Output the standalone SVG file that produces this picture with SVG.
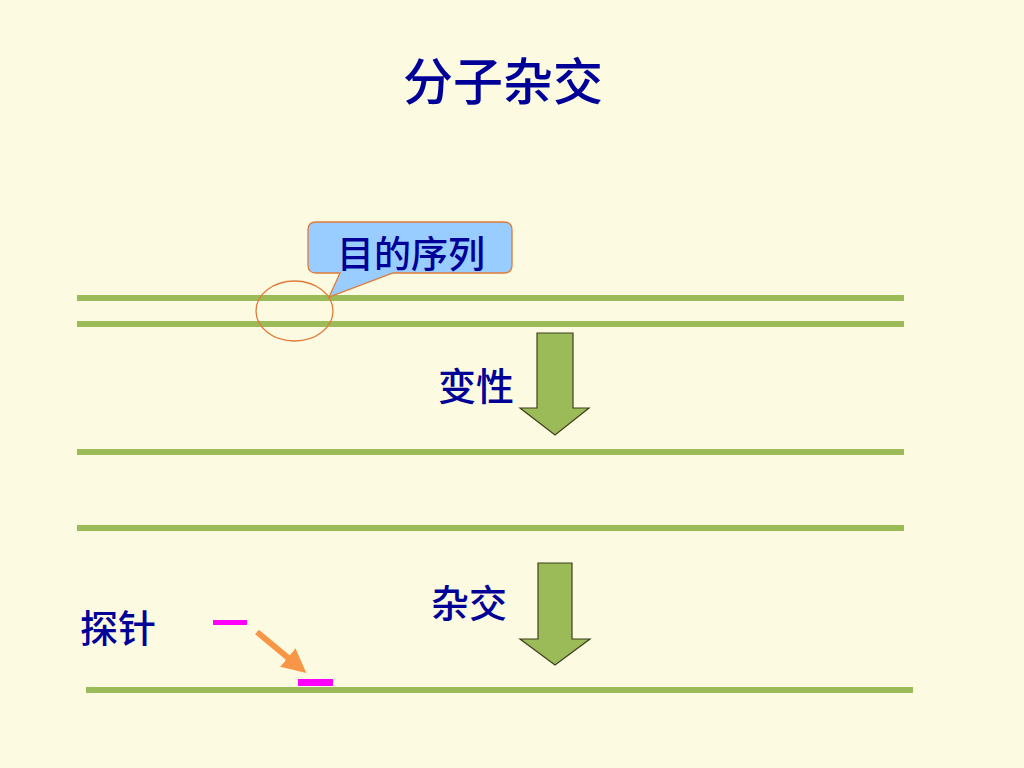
<svg xmlns="http://www.w3.org/2000/svg" width="1024" height="768" viewBox="0 0 1024 768">
<defs>
<style>
.t{font-family:"Noto Sans CJK SC","Noto Sans CJK JP",sans-serif;fill:#000099;font-weight:500;}
.strand{stroke:#9BBB59;stroke-width:6;fill:none;}
.bigarrow{fill:#9BBB59;stroke:#3F3F1F;stroke-width:1.2;}
.probe{fill:#FF00FF;}
</style>
<marker id="oarrow" markerWidth="4" markerHeight="4" refX="2.2" refY="2" orient="auto" markerUnits="strokeWidth">
<path d="M0,0 L4,2 L0,4 Z" fill="#F79646"/>
</marker>
</defs>
<rect width="1024" height="768" fill="#FCFBE1"/>
<g id="title"><text class="t" x="503" y="100" font-size="50" text-anchor="middle">分子杂交</text></g>
<g id="strands">
<line class="strand" x1="77" y1="298" x2="904" y2="298"/>
<line class="strand" x1="77" y1="324" x2="904" y2="324"/>
<line class="strand" x1="77" y1="452" x2="904" y2="452"/>
<line class="strand" x1="77" y1="528" x2="904" y2="528"/>
<line class="strand" x1="86" y1="690" x2="913" y2="690"/>
</g>
<g id="callout">
<path d="M316,222 H504 Q512,222 512,230 V265 Q512,273 504,273 H393 L329,297 L340,273 H316 Q308,273 308,265 V230 Q308,222 316,222 Z" fill="#99CCFF" stroke="#E07A3A" stroke-width="1.3"/>
<text class="t" x="411" y="268" font-size="37" text-anchor="middle">目的序列</text>
</g>
<g id="target-ellipse"><ellipse cx="294.5" cy="311" rx="38.5" ry="30" fill="none" stroke="#E07A3A" stroke-width="1.3"/></g>
<g id="denature">
<polygon class="bigarrow" points="537,333 573,333 573,408 589,408 555,435 520,408 537,408"/>
<text class="t" x="476" y="400" font-size="38" text-anchor="middle">变性</text>
</g>
<g id="hybridize">
<polygon class="bigarrow" points="538,563 572,563 572,639 590,639 555,665 520,639 538,639"/>
<text class="t" x="469" y="617" font-size="38" text-anchor="middle">杂交</text>
</g>
<g id="probe">
<text class="t" x="118" y="642" font-size="38" text-anchor="middle">探针</text>
<rect class="probe" x="213" y="620" width="34" height="5"/>
<rect class="probe" x="298" y="679" width="35" height="7"/>
</g>
<g id="connectors">
<line x1="257" y1="632" x2="298" y2="666" stroke="#F79646" stroke-width="6" marker-end="url(#oarrow)"/>
</g>
</svg>
